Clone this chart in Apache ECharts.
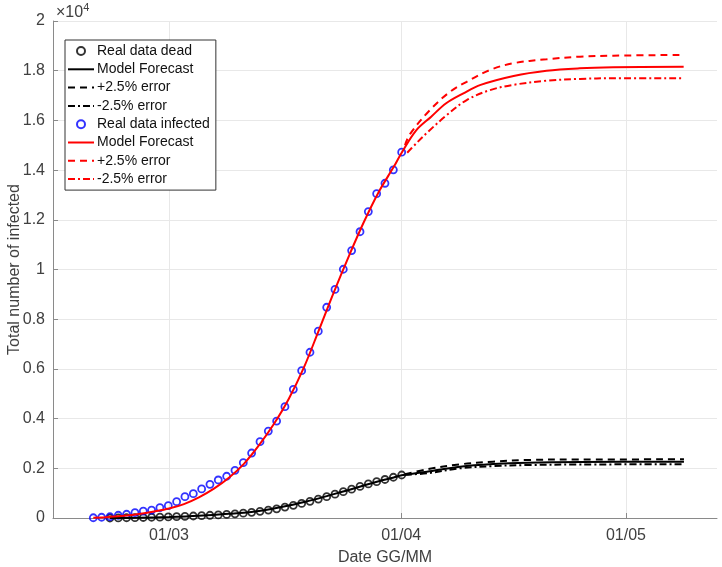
<!DOCTYPE html>
<html>
<head>
<meta charset="utf-8">
<script src="https://cdn.jsdelivr.net/npm/echarts@6/dist/echarts.min.js"></script>
<style>
html,body{margin:0;padding:0;background:#fff;}
#chart{width:722px;height:567px;}
</style>
</head>
<body>
<div id="chart"></div>
<script>
// x values are days counted from 01/03 (01/03 = 0, 01/04 = 31, 01/05 = 61)
var tickDays = [0, 31, 61];
var tickLabels = ['01/03', '01/04', '01/05'];

// observed data (days from 01/03)
var infectedDays = [-10.10,-8.99,-7.88,-6.77,-5.66,-4.54,-3.43,-2.32,-1.21,-0.09,1.02,2.13,3.25,4.36,5.47,6.58,7.70,8.81,9.92,11.03,12.15,13.26,14.37,15.48,16.60,17.71,18.82,19.93,21.05,22.16,23.27,24.38,25.50,26.61,27.72,28.83,29.95,31.06];
var infectedValues = [10,30,50,110,150,215,280,320,415,495,655,860,980,1170,1355,1530,1680,1920,2225,2615,3070,3500,3900,4480,5180,5930,6670,7520,8480,9200,10010,10760,11520,12330,13050,13470,14010,14720];

var deadDays = [-7.88,-6.77,-5.66,-4.54,-3.43,-2.32,-1.21,-0.09,1.02,2.13,3.25,4.36,5.47,6.58,7.70,8.81,9.92,11.03,12.15,13.26,14.37,15.48,16.60,17.71,18.82,19.93,21.05,22.16,23.27,24.38,25.50,26.61,27.72,28.83,29.95,31.06];
var deadValues = [0,5,10,15,20,30,35,45,55,65,80,95,110,125,145,170,195,230,270,320,370,440,510,585,670,760,860,960,1060,1160,1270,1370,1460,1550,1640,1730];

// model forecast, infected
var infModelDays = [-10.1,-8,-6,-4,-2,0,2,4,6,8,10,12,14,16,18,20,22,24,26,28,30,31.06,33,35,37,39.3,41.6,46,50.4,54.8,59.3,68.7];
var infModelValues = [10,45,90,160,260,380,560,830,1180,1620,2180,2920,3780,4800,6050,7550,9080,10530,11900,13120,14130,14700,15600,16150,16690,17090,17430,17790,18000,18095,18135,18160];
var infPlusDays = [31.5,32.17,34.84,37.51,39.74,42.85,45.96,50.41,54.86,59.3,68.65];
var infPlusValues = [15000,15450,16420,17150,17555,18030,18300,18460,18565,18605,18635];
var infMinusDays = [31.8,32.43,34.61,37.07,39.74,42.85,45.96,50.41,54.86,59.3,68.65];
var infMinusValues = [14700,14900,15550,16210,16820,17220,17430,17600,17670,17695,17695];

// model forecast, dead
var deadModelDays = [-7.88,-4,0,4,8,10,12,14,16,18,20,22,24,26,28,30,31.06,34.44,38.85,43.25,47.79,55,68.74];
var deadModelValues = [0,10,40,90,170,210,280,380,500,640,790,960,1130,1310,1480,1630,1720,1865,2065,2170,2225,2255,2265];
var deadPlusDays = [31.5,34.44,38.85,43.25,47.79,55,68.74];
var deadPlusValues = [1760,1960,2160,2265,2335,2355,2360];
var deadMinusDays = [31.5,34.44,38.85,43.25,47.79,55,68.74];
var deadMinusValues = [1740,1800,2000,2090,2130,2155,2160];

function pairs(xs, ys) { return xs.map(function (x, i) { return [x, ys[i]]; }); }

var chart = echarts.init(document.getElementById('chart'), null, {renderer: 'canvas'});
var FONT = 'Liberation Sans, Arial, Helvetica, sans-serif';
var AXC = '#8a8a8a';
var TXT = '#404040';

function lineSeries(name, data, color, type) {
  return {
    name: name, type: 'line', data: data, symbol: 'none', smooth: 0.35,
    lineStyle: {color: color, width: 2, type: type},
    itemStyle: {color: color},
    emphasis: {disabled: true}, z: 3
  };
}
function scatterSeries(name, data, color) {
  return {
    name: name, type: 'scatter', data: data, symbol: 'circle', symbolSize: 7,
    itemStyle: {color: 'rgba(255,255,255,0)', borderColor: color, borderWidth: 1.8},
    emphasis: {disabled: true}, z: 2
  };
}
var hiddenSym = {color: 'rgba(0,0,0,0)', borderColor: 'rgba(0,0,0,0)', borderWidth: 0, opacity: 0};
function lineLegend(name) { return {name: name, itemStyle: hiddenSym}; }

var option = {
  animation: false,
  backgroundColor: '#fff',
  grid: {left: 53, right: 5, top: 21, bottom: 49, containLabel: false, outerBoundsMode: 'none'},
  xAxis: {
    type: 'value', min: -15.48, max: 73.15,
    axisLine: {show: true, onZero: false, lineStyle: {color: AXC, width: 1}},
    axisTick: {show: true, inside: true, length: 5, lineStyle: {color: AXC}, customValues: tickDays},
    axisLabel: {color: TXT, fontSize: 16, fontFamily: FONT, margin: 10, customValues: tickDays,
      formatter: function (v) { var i = tickDays.indexOf(v); return i >= 0 ? tickLabels[i] : ''; }},
    splitLine: {show: true, lineStyle: {color: '#e8e8e8', width: 1}},
    name: 'Date GG/MM', nameLocation: 'middle', nameGap: 32,
    nameTextStyle: {color: TXT, fontSize: 16, fontFamily: FONT}
  },
  yAxis: {
    type: 'value', min: 0, max: 20000, interval: 2000,
    axisLine: {show: true, onZero: false, lineStyle: {color: AXC, width: 1}},
    axisTick: {show: true, inside: true, length: 5, lineStyle: {color: AXC}},
    axisLabel: {color: TXT, fontSize: 16, fontFamily: FONT, margin: 8,
      formatter: function (v) { return String(parseFloat((v / 10000).toFixed(1))); }},
    splitLine: {show: true, lineStyle: {color: '#e8e8e8', width: 1}},
    name: 'Total number of infected', nameLocation: 'middle', nameGap: 30, nameRotate: 90,
    nameMoveOverlap: false,
    nameTextStyle: {color: TXT, fontSize: 16, fontFamily: FONT}
  },
  legend: {
    show: true, orient: 'vertical', left: 65, top: 40,
    backgroundColor: '#fff', borderColor: '#333', borderWidth: 1,
    padding: [4, 6, 4, 2], itemGap: 4.3, itemWidth: 26, itemHeight: 8,
    textStyle: {color: '#111', fontSize: 14, fontFamily: FONT, padding: [0, 0, 0, -2]},
    selectedMode: false,
    data: ['Real data dead', lineLegend('Model Forecast'), lineLegend('+2.5% error'), lineLegend('-2.5% error'),
           'Real data infected', lineLegend('Model Forecast '), lineLegend('+2.5% error '), lineLegend('-2.5% error ')]
  },
  graphic: [{
    type: 'text', left: 56, top: 2,
    style: {text: '{a|\u00d710}{b|4}', rich: {
      a: {fontSize: 16, fontFamily: FONT, fill: TXT, verticalAlign: 'bottom'},
      b: {fontSize: 11, fontFamily: FONT, fill: TXT, verticalAlign: 'top', padding: [0, 0, 8, 0]}
    }}
  }],
  series: [
    scatterSeries('Real data dead', pairs(deadDays, deadValues), '#000'),
    lineSeries('Model Forecast', pairs(deadModelDays, deadModelValues), '#000', 'solid'),
    lineSeries('+2.5% error', pairs(deadPlusDays, deadPlusValues), '#000', [7, 5]),
    lineSeries('-2.5% error', pairs(deadMinusDays, deadMinusValues), '#000', [7, 3, 2, 3]),
    scatterSeries('Real data infected', pairs(infectedDays, infectedValues), '#0000ff'),
    lineSeries('Model Forecast ', pairs(infModelDays, infModelValues), '#ff0000', 'solid'),
    lineSeries('+2.5% error ', pairs(infPlusDays, infPlusValues), '#ff0000', [7, 5]),
    lineSeries('-2.5% error ', pairs(infMinusDays, infMinusValues), '#ff0000', [7, 3, 2, 3])
  ]
};
chart.setOption(option);
</script>
</body>
</html>
